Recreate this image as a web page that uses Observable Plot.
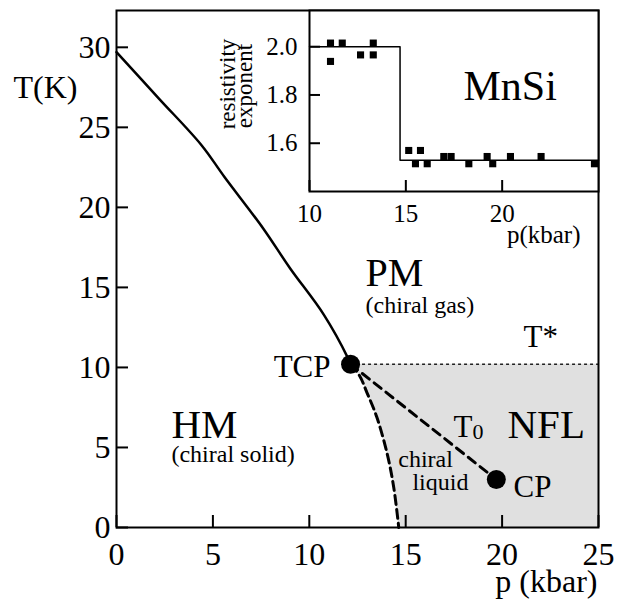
<!DOCTYPE html>
<html>
<head>
<meta charset="utf-8">
<script src="https://cdn.jsdelivr.net/npm/d3@7"></script>
<script src="https://cdn.jsdelivr.net/npm/@observablehq/plot@0.6"></script>
<style>
  html, body { margin: 0; padding: 0; background: white; overflow: hidden; }
  #wrap { position: relative; width: 628px; height: 605px; }
  #inset { position: absolute; left: 200px; top: 0px; }
  #wrap svg text { font-family: "Liberation Serif", serif !important; }
</style>
</head>
<body>
<div id="wrap"><div id="main"></div><div id="inset"></div></div>
<script>
// ---- main phase diagram data ----
const pTicks = [0, 5, 10, 15, 20, 25];
const tTicks = [0, 5, 10, 15, 20, 25, 30];
const pDomain = [0, 25];
const tDomain = [0, 32.3];

// solid first-order / second-order line (p in kbar, T in K)
const lineP = [0, 2.2, 4.4, 5.6, 7.6, 9.0, 10.75, 12.0, 12.14];
const lineT = [29.7, 26.8, 23.9, 21.9, 18.7, 16.2, 13.3, 10.6, 10.2];

// dashed boundary of the chiral liquid / NFL region
const edgeP = [12.14, 12.6, 13.0, 13.5, 14.04, 14.38, 14.64];
const edgeT = [10.2, 9.5, 8.4, 6.9, 4.6, 2.5, 0];

// special points
const tcpPoint = {p: 12.14, T: 10.2};
const cpPoint = {p: 19.7, T: 3.0};
const tStar = 10.2;

// ---- inset data: resistivity exponent vs pressure ----
const insetPTicks = [10, 15, 20];
const insetETicks = [1.6, 1.8, 2.0];
const insetPDomain = [10, 25];
const insetEDomain = [1.4, 2.15];
const insetP = [11.09, 11.09, 11.70, 12.65, 13.31, 13.31, 15.15, 15.50, 15.76, 16.11, 16.97, 17.35, 18.27, 19.22, 19.51, 20.43, 22.02, 24.79];
const insetE = [2.015, 1.939, 2.015, 1.966, 2.015, 1.966, 1.570, 1.515, 1.570, 1.515, 1.545, 1.545, 1.515, 1.545, 1.515, 1.545, 1.545, 1.515];
const stepP = [10, 14.7, 25];
const stepE = [2.0, 1.53, 1.53];

// ---- build tables ----
const solid = lineP.map((p, i) => ({p, T: lineT[i]}));
const edge = edgeP.map((p, i) => ({p, T: edgeT[i]}));
const pts = insetP.map((p, i) => ({p, e: insetE[i]}));
const step = stepP.map((p, i) => ({p, e: stepE[i]}));

const FONT = "Liberation Serif";
const lab = (s, x, y, o = {}) => Plot.text([s], {x, y, text: d => d, fontFamily: FONT, fill: "black", lineAnchor: "middle", ...o});

const main = Plot.plot({
  width: 628, height: 605,
  marginLeft: 116, marginRight: 30, marginTop: 10, marginBottom: 78,
  style: {fontFamily: FONT, background: "white", color: "black"},
  x: {domain: pDomain},
  y: {domain: tDomain},
  marks: [
    Plot.areaX(edge, {y: "T", x1: "p", x2: pDomain[1], fill: "#e0e0e0", curve: "catmull-rom"}),
    Plot.ruleY([tStar], {x1: tcpPoint.p, x2: pDomain[1], stroke: "#222", strokeWidth: 1.5, strokeDasharray: "3,3"}),
    Plot.line(solid, {x: "p", y: "T", stroke: "black", strokeWidth: 2.5, curve: "catmull-rom"}),
    Plot.line(edge, {x: "p", y: "T", stroke: "black", strokeWidth: 3, strokeDasharray: "9,5", curve: "catmull-rom"}),
    Plot.line([tcpPoint, cpPoint], {x: "p", y: "T", stroke: "black", strokeWidth: 3, strokeDasharray: "9,6"}),
    Plot.dot([tcpPoint, cpPoint], {x: "p", y: "T", r: 9.5, fill: "black"}),
    Plot.axisX({ticks: pTicks, tickSize: -12, tickPadding: 27, fontSize: 32, fontFamily: FONT, fill: "black", strokeWidth: 2, label: null, tickFormat: d3.format("d")}),
    Plot.axisY({ticks: tTicks, tickSize: -12, tickPadding: 18, fontSize: 32, fontFamily: FONT, fill: "black", strokeWidth: 2, label: null, tickFormat: d3.format("d")}),
    Plot.frame({stroke: "black", strokeWidth: 2}),
    lab("T(K)", null, null, {frameAnchor: "top-left", textAnchor: "start", dx: -103, dy: 77, fontSize: 32}),
    lab("p (kbar)", null, null, {frameAnchor: "bottom-right", textAnchor: "end", dx: -1, dy: 54, fontSize: 32}),
    lab("PM", 12.92, 15.86, {textAnchor: "start", fontSize: 40}),
    lab("(chiral gas)", 12.92, 13.86, {textAnchor: "start", fontSize: 24}),
    lab("HM", 2.85, 6.44, {textAnchor: "start", fontSize: 41}),
    lab("(chiral solid)", 2.85, 4.57, {textAnchor: "start", fontSize: 24}),
    lab("TCP", 11.1, 10.0, {textAnchor: "end", fontSize: 31}),
    lab("T*", 21.11, 11.89, {textAnchor: "start", fontSize: 31}),
    lab("T", 17.48, 6.26, {textAnchor: "start", fontSize: 31}),
    lab("0", 18.46, 6.0, {textAnchor: "start", fontSize: 22}),
    lab("NFL", 20.28, 6.44, {textAnchor: "start", fontSize: 41}),
    lab("chiral", 16.03, 4.23, {textAnchor: "middle", fontSize: 24}),
    lab("liquid", 16.8, 2.85, {textAnchor: "middle", fontSize: 24}),
    lab("CP", 20.59, 2.5, {textAnchor: "start", fontSize: 31})
  ]
});
document.getElementById("main").appendChild(main);

const inset = Plot.plot({
  width: 428, height: 260,
  marginLeft: 109, marginRight: 30, marginTop: 10, marginBottom: 69,
  style: {fontFamily: FONT, background: "transparent", color: "black"},
  x: {domain: insetPDomain},
  y: {domain: insetEDomain},
  marks: [
    Plot.frame({fill: "white", stroke: "none"}),
    Plot.line(step, {x: "p", y: "e", stroke: "black", strokeWidth: 1.5, curve: "step-after"}),
    Plot.dot(pts, {x: "p", y: "e", symbol: "square", r: 4, fill: "black"}),
    Plot.axisX({ticks: insetPTicks, tickSize: -11, tickPadding: 24, fontSize: 25, fontFamily: FONT, fill: "black", strokeWidth: 2, label: null, tickFormat: d3.format("d")}),
    Plot.axisY({ticks: insetETicks, tickSize: -11, tickPadding: 23, fontSize: 25, fontFamily: FONT, fill: "black", strokeWidth: 2, label: null, tickFormat: d3.format(".1f")}),
    Plot.frame({stroke: "black", strokeWidth: 2}),
    lab("MnSi", 17.99, 1.833, {textAnchor: "start", fontSize: 42}),
    lab("p(kbar)", null, null, {frameAnchor: "bottom-right", textAnchor: "end", dx: -18, dy: 43, fontSize: 25}),
    lab("resistivity", null, null, {frameAnchor: "left", textAnchor: "middle", rotate: -90, dx: -82, dy: -17, fontSize: 23}),
    lab("exponent", null, null, {frameAnchor: "left", textAnchor: "middle", rotate: -90, dx: -65, dy: -15, fontSize: 23})
  ]
});
document.getElementById("inset").appendChild(inset);
</script>
</body>
</html>
